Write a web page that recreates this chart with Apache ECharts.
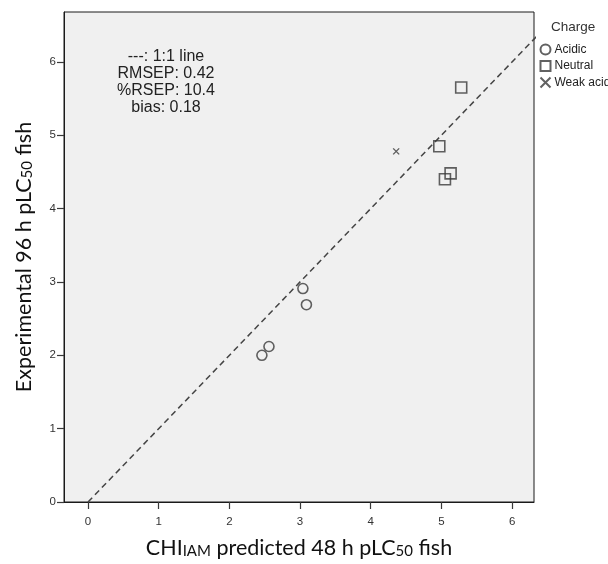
<!DOCTYPE html>
<html>
<head>
<meta charset="utf-8">
<script src="https://cdn.jsdelivr.net/npm/echarts@6/dist/echarts.min.js"></script>
<style>html,body{margin:0;padding:0;background:#fff;}#c{width:608px;height:564px;}</style>
</head>
<body>
<div id="c"></div>
<script>
// Data
const acidicX = [2.46, 2.56, 3.04, 3.09];
const acidicY = [2.00, 2.12, 2.91, 2.69];
const neutralX = [4.97, 5.05, 5.13, 5.28];
const neutralY = [4.85, 4.40, 4.48, 5.65];
const weakAcidX = [4.36];
const weakAcidY = [4.78];
const lineX = [0, 6.8];
const lineY = [0, 6.8];
const tickValues = [0, 1, 2, 3, 4, 5, 6];
const seriesNames = ['Acidic', 'Neutral', 'Weak acid'];
const legendTitle = 'Charge';
const statsLines = ['---: 1:1 line', 'RMSEP: 0.42', '%RSEP: 10.4', 'bias: 0.18'];

const zip = (xs, ys) => xs.map((x, i) => [x, ys[i]]);
const ink = '#3a3a3a';
const sans = '"Liberation Sans", Arial, sans-serif';
const titleFont = 'Lato, "Noto Sans", sans-serif';

const chart = echarts.init(document.getElementById('c'), null, {renderer: 'canvas'});
const titleRich = {
  n: {fontSize: 21.5, fontFamily: titleFont, color: '#111', lineHeight: 28, verticalAlign: 'bottom'},
  s: {fontSize: 15, fontFamily: titleFont, color: '#111', lineHeight: 23, verticalAlign: 'bottom'}
};
const axisCommon = {
  type: 'value',
  splitLine: {show: false},
  axisLine: {show: true, onZero: false, lineStyle: {color: '#1a1a1a', width: 1}},
  axisTick: {show: true, length: 7, lineStyle: {color: ink, width: 1.2}, customValues: tickValues},
  axisLabel: {color: '#333', fontSize: 11.5, fontFamily: sans, margin: 9, customValues: tickValues}
};
const crossPath = 'path://M0,0L10,10M10,0L0,10';
chart.setOption({
  animation: false,
  backgroundColor: '#fff',
  grid: {left: 64, right: 74, top: 12, bottom: 59.5, show: true, backgroundColor: '#f0f0f0', borderColor: '#1a1a1a', borderWidth: 1},
  xAxis: Object.assign({}, axisCommon, {
    min: -0.34, max: 6.31,
    axisLabel: Object.assign({}, axisCommon.axisLabel, {margin: 14}),
    name: '{n|CHI}{s|IAM}{n| predicted 48 h pLC}{s|50}{n| fish}',
    nameLocation: 'middle', nameGap: 29,
    nameTextStyle: {rich: titleRich}
  }),
  yAxis: Object.assign({}, axisCommon, {
    min: 0, max: 6.68,
    axisLabel: Object.assign({}, axisCommon.axisLabel, {margin: 8}),
    name: '{n|Experimental 96 h pLC}{s|50}{n| fish}',
    nameLocation: 'middle', nameGap: 29,
    nameTextStyle: {rich: titleRich}
  }),
  legend: {
    orient: 'vertical', left: 538, top: 42, padding: 0, itemGap: 1.5, itemWidth: 10, itemHeight: 10,
    textStyle: {fontSize: 12, fontFamily: sans, color: '#222', padding: [0, 0, 0, -1]},
    data: seriesNames
  },
  graphic: [
    {type: 'text', x: 551, y: 20, style: {text: legendTitle, font: '13.5px ' + sans, fill: '#333'}},
    {type: 'text', x: 166, y: 48.5, style: {text: statsLines.join('\n'), font: '16px ' + sans, fill: '#222', textAlign: 'center', lineHeight: 17}}
  ],
  series: [
    {type: 'line', data: zip(lineX, lineY), symbol: 'none', silent: true, legendHoverLink: false,
     lineStyle: {color: '#444', width: 1.5, type: [6, 4]}, clip: true, z: 1},
    {name: seriesNames[0], type: 'scatter', data: zip(acidicX, acidicY), symbol: 'circle', symbolSize: 10,
     itemStyle: {color: 'none', borderColor: ink, borderWidth: 1.6}, z: 3},
    {name: seriesNames[1], type: 'scatter', data: zip(neutralX, neutralY), symbol: 'rect', symbolSize: 11,
     itemStyle: {color: 'none', borderColor: ink, borderWidth: 1.6}, z: 3},
    {name: seriesNames[2], type: 'scatter', data: zip(weakAcidX, weakAcidY), symbol: crossPath, symbolSize: 6,
     itemStyle: {color: 'none', borderColor: ink, borderWidth: 1.4}, z: 3}
  ]
});
</script>
</body>
</html>
